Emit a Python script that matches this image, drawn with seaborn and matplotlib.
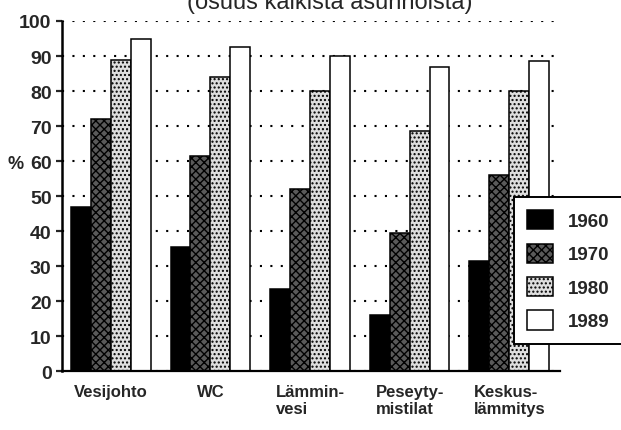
import matplotlib
matplotlib.use("Agg")
import matplotlib.pyplot as plt
import seaborn as sns
import pandas as pd
from matplotlib.patches import Patch

# data
kohteet = ["Vesijohto", "WC", "Lämmin-\nvesi", "Peseyty-\nmistilat", "Keskus-\nlämmitys"]
vuodet = ["1960", "1970", "1980", "1989"]
v1960 = [47, 35.5, 23.5, 16, 31.5]
v1970 = [72, 61.5, 52, 39.5, 56]
v1980 = [89, 84, 80, 68.5, 80]
v1989 = [95, 92.5, 90, 87, 88.5]

rows = []
for vuosi, arvot in zip(vuodet, [v1960, v1970, v1980, v1989]):
    for kohde, a in zip(kohteet, arvot):
        rows.append({"kohde": kohde, "vuosi": vuosi, "osuus": a})
df = pd.DataFrame(rows)

sns.set_style("white")
plt.rcParams["font.family"] = ["Liberation Sans", "DejaVu Sans"]
plt.rcParams["font.weight"] = "bold"
plt.rcParams["hatch.linewidth"] = 1.0

fig = plt.figure(figsize=(6.21, 4.31), dpi=100)
ax = fig.add_axes([62 / 621, 1 - 372.3 / 431, 498 / 621, 350.3 / 431])

sns.barplot(data=df, x="kohde", y="osuus", hue="vuosi", hue_order=vuodet,
            order=kohteet, ax=ax, width=0.8, legend=False, saturation=1)

# fill styles: musta, tiheä rasteri, harva pisterasteri, valkoinen
tyylit = [("black", ""), ("#5a5a5a", "xxxx"), ("#dedede", "...."), ("white", "")]
for cont, (fc, h) in zip(ax.containers, tyylit):
    for bar in cont:
        bar.set_facecolor(fc)
        bar.set_edgecolor("black")
        bar.set_linewidth(1.1)
        bar.set_hatch(h)

ax.set_xlim(-0.49, 4.51)
ax.set_ylim(0, 100)
ax.set_yticks(range(0, 101, 10))
ax.set_xlabel("")
ax.set_ylabel("")

ax.set_axisbelow(True)
ax.yaxis.grid(True, color="black", linestyle=(0, (1, 4)), linewidth=1.5)
ax.xaxis.grid(False)

for s in ["top", "right"]:
    ax.spines[s].set_visible(False)
ax.spines["left"].set_linewidth(1.8)
ax.spines["bottom"].set_linewidth(1.6)
ax.spines["left"].set_color("black")
ax.spines["bottom"].set_color("black")

ax.tick_params(axis="y", direction="out", length=4.5, width=1.6, pad=3,
               labelsize=14, left=True)
ax.tick_params(axis="x", length=0, pad=9, labelsize=12)
for lbl in ax.get_xticklabels():
    lbl.set_multialignment("left")
    lbl.set_fontweight("bold")
for lbl in ax.get_yticklabels():
    lbl.set_fontweight("bold")

fig.text(8 / 621, 1 - 169 / 431, "%", fontsize=13, fontweight="bold",
         ha="left", va="baseline")
# otsikon alareuna näkyy kuvan yläreunassa
fig.text(330 / 621, 1 - 9 / 431, "(osuus kaikista asunnoista)", fontsize=17,
         ha="center", va="baseline", fontweight="normal")

handles = [Patch(facecolor=fc, edgecolor="black", hatch=h, linewidth=1.1)
           for fc, h in tyylit]
leg = fig.legend(handles, vuodet, loc="upper left",
                 bbox_to_anchor=(514 / 621, 0.2, 0.25, 1 - 198 / 431 - 0.2),
                 bbox_transform=fig.transFigure, mode="expand",
                 borderaxespad=0, fontsize=13.5, handlelength=1.4,
                 handleheight=1.2, handletextpad=0.75, labelspacing=0.72,
                 borderpad=0.7, fancybox=False, framealpha=1)
leg.get_frame().set_edgecolor("black")
leg.get_frame().set_linewidth(1.4)
for t in leg.get_texts():
    t.set_fontweight("bold")

fig.savefig("out.png", dpi=100)
